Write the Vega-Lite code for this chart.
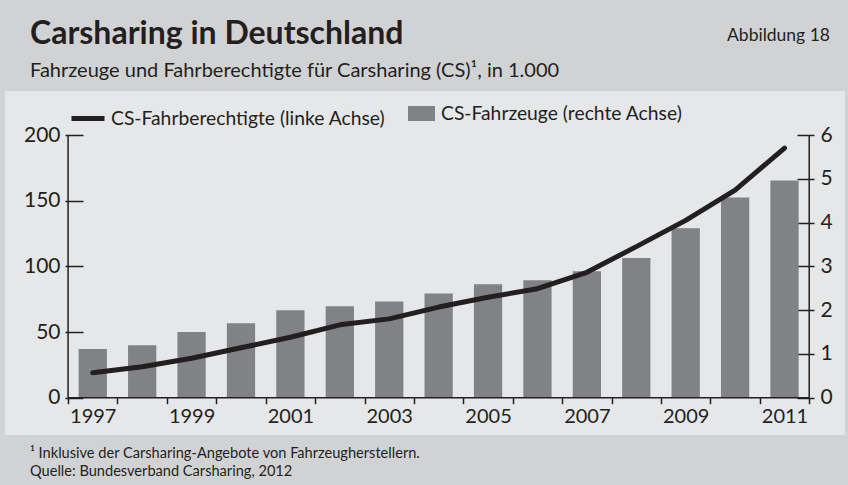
{
  "$schema": "https://vega.github.io/schema/vega-lite/v6.json",
  "background": "#d1d2d4",
  "padding": {"left": 5, "top": 18, "right": 3, "bottom": 9},
  "title": {
    "text": "Abbildung 18",
    "anchor": "end",
    "orient": "top",
    "offset": -26,
    "dx": -15,
    "fontSize": 17.5,
    "fontWeight": "normal",
    "font": "Lato",
    "color": "#231f20"
  },
  "spacing": 0,
  "vconcat": [
    {
      "title": {
        "text": "Carsharing in Deutschland",
        "subtitle": "Fahrzeuge und Fahrberechtigte für Carsharing (CS)¹, in 1.000",
        "anchor": "start",
        "dx": 25,
        "offset": 9,
        "fontSize": 32,
        "fontWeight": "bold",
        "font": "Lato",
        "color": "#231f20",
        "subtitleFontSize": 20,
        "subtitleFont": "Lato",
        "subtitleColor": "#231f20",
        "subtitlePadding": 10
      },
      "spacing": 0,
      "vconcat": [
        {
          "title": {
            "text": ["¹ Inklusive der Carsharing-Angebote von Fahrzeugherstellern.", "Quelle: Bundesverband Carsharing, 2012"],
            "orient": "bottom",
            "anchor": "start",
            "dx": 25,
            "offset": 11,
            "fontSize": 14.6,
            "lineHeight": 18,
            "fontWeight": "normal",
            "font": "Lato",
            "color": "#231f20"
          },
          "width": 840,
          "height": 344,
          "data": {
            "values": [
              {"Jahr": "1997", "Fahrberechtigte": 19, "Fahrzeuge": 1.11},
              {"Jahr": "1998", "Fahrberechtigte": 23.5, "Fahrzeuge": 1.2},
              {"Jahr": "1999", "Fahrberechtigte": 30, "Fahrzeuge": 1.5},
              {"Jahr": "2000", "Fahrberechtigte": 38, "Fahrzeuge": 1.7},
              {"Jahr": "2001", "Fahrberechtigte": 46, "Fahrzeuge": 2.0},
              {"Jahr": "2002", "Fahrberechtigte": 55.5, "Fahrzeuge": 2.09},
              {"Jahr": "2003", "Fahrberechtigte": 60, "Fahrzeuge": 2.2},
              {"Jahr": "2004", "Fahrberechtigte": 69, "Fahrzeuge": 2.38},
              {"Jahr": "2005", "Fahrberechtigte": 76.5, "Fahrzeuge": 2.59},
              {"Jahr": "2006", "Fahrberechtigte": 83, "Fahrzeuge": 2.68},
              {"Jahr": "2007", "Fahrberechtigte": 95.5, "Fahrzeuge": 2.89},
              {"Jahr": "2008", "Fahrberechtigte": 115, "Fahrzeuge": 3.19},
              {"Jahr": "2009", "Fahrberechtigte": 135, "Fahrzeuge": 3.87},
              {"Jahr": "2010", "Fahrberechtigte": 158, "Fahrzeuge": 4.57},
              {"Jahr": "2011", "Fahrberechtigte": 190, "Fahrzeuge": 4.96}
            ]
          },
          "layer": [
            {
              "mark": {"type": "bar", "width": {"band": 0.572}, "color": "#808285"},
              "encoding": {
                "x": {
                  "field": "Jahr",
                  "type": "ordinal",
                  "scale": {"type": "band", "paddingInner": 0, "paddingOuter": 1.08, "align": 0.638},
                  "axis": {
                    "orient": "bottom",
                    "offset": -37.3,
                    "domain": false,
                    "grid": false,
                    "tickBand": "extent",
                    "tickSize": 6,
                    "tickWidth": 1.5,
                    "tickColor": "#231f20",
                    "labelExpr": "toNumber(datum.label) % 2 == 1 ? datum.label : ''",
                    "labelFontSize": 20,
                    "labelFont": "Lato",
                    "labelPadding": 3,
                    "labelColor": "#231f20",
                    "labelAngle": 0,
                    "title": null
                  }
                },
                "y": {
                  "field": "Fahrzeuge",
                  "type": "quantitative",
                  "scale": {"domain": [-0.852, 7.005], "nice": false, "zero": false},
                  "axis": {
                    "orient": "right",
                    "offset": -48,
                    "values": [0, 1, 2, 3, 4, 5, 6],
                    "domain": false,
                    "grid": false,
                    "tickSize": 17,
                    "tickWidth": 1.5,
                    "tickColor": "#231f20",
                    "labelFontSize": 21,
                    "labelFont": "Lato",
                    "labelPadding": 6,
                    "labelColor": "#231f20",
                    "title": null
                  }
                },
                "color": {
                  "datum": "CS-Fahrzeuge (rechte Achse)",
                  "scale": {"range": ["#808285"]},
                  "legend": {
                    "orient": "none",
                    "legendX": 403,
                    "legendY": 9,
                    "title": null,
                    "symbolType": "M-1,-0.556H1V0.556H-1Z",
                    "symbolSize": 729,
                    "symbolStrokeWidth": 0,
                    "symbolOpacity": 1,
                    "labelOffset": 6,
                    "labelFontSize": 19.3,
                    "labelFont": "Lato",
                    "labelColor": "#231f20",
                    "labelLimit": 400
                  }
                }
              }
            },
            {
              "layer": [
                {
                  "mark": {"type": "line", "strokeWidth": 5, "strokeCap": "round", "strokeJoin": "round"},
                  "encoding": {
                    "x": {"field": "Jahr", "type": "ordinal"},
                    "y": {
                      "field": "Fahrberechtigte",
                      "type": "quantitative",
                      "scale": {"domain": [-28.4, 233.5], "nice": false, "zero": false},
                      "axis": {
                        "orient": "left",
                        "offset": -78,
                        "values": [0, 50, 100, 150, 200],
                        "domain": false,
                        "grid": false,
                        "tickSize": 18,
                        "tickWidth": 1.5,
                        "tickColor": "#231f20",
                        "labelFontSize": 21,
                        "labelFont": "Lato",
                        "labelPadding": 5,
                        "labelColor": "#231f20",
                        "title": null
                      }
                    },
                    "stroke": {
                      "datum": "CS-Fahrberechtigte (linke Achse)",
                      "scale": {"range": ["#231f20"]},
                      "legend": {
                        "orient": "none",
                        "legendX": 64,
                        "legendY": 8.5,
                        "title": null,
                        "symbolType": "stroke",
                        "symbolSize": 1089,
                        "symbolStrokeWidth": 5,
                        "labelOffset": 4,
                        "labelFontSize": 19.3,
                        "labelFont": "Lato",
                        "labelColor": "#231f20",
                        "labelLimit": 400
                      }
                    }
                  }
                },
                {
                  "data": {"values": [{}]},
                  "mark": {"type": "rule", "color": "#231f20", "strokeWidth": 1.5},
                  "encoding": {
                    "x": {"datum": "1997", "type": "ordinal", "bandPosition": 0},
                    "y": {"datum": 0, "type": "quantitative"},
                    "y2": {"datum": 200}
                  }
                },
                {
                  "data": {"values": [{}]},
                  "mark": {"type": "rule", "color": "#231f20", "strokeWidth": 1.5},
                  "encoding": {
                    "x": {"datum": "2011", "type": "ordinal", "bandPosition": 1},
                    "y": {"datum": 0, "type": "quantitative"},
                    "y2": {"datum": 200}
                  }
                },
                {
                  "data": {"values": [{}]},
                  "mark": {"type": "rule", "color": "#231f20", "strokeWidth": 1.5},
                  "encoding": {
                    "x": {"datum": "1997", "type": "ordinal", "bandPosition": 0},
                    "x2": {"datum": "2011", "bandPosition": 1},
                    "y": {"datum": 0, "type": "quantitative"}
                  }
                }
              ]
            }
          ],
          "resolve": {"scale": {"y": "independent"}}
        }
      ]
    }
  ],
  "config": {
    "view": {"stroke": null, "fill": "#e6e7e8"},
    "font": "Lato"
  }
}
